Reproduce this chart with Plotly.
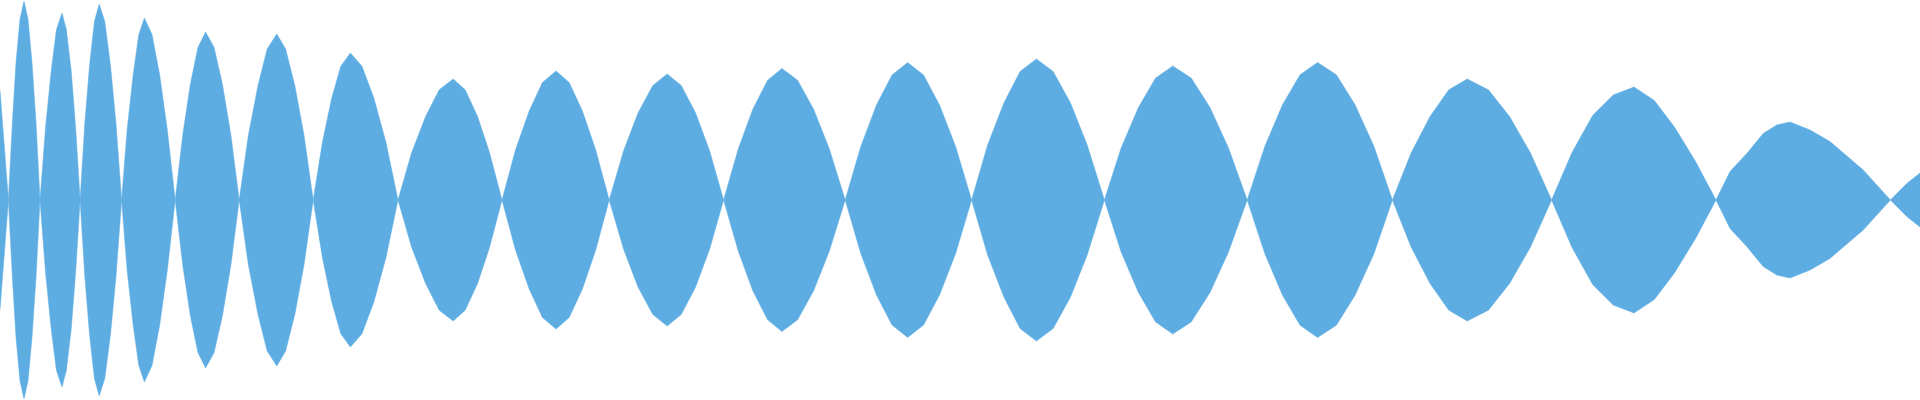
# Plotly: Wellenform (Hüllkurve) als gefüllte Fläche
import plotly.graph_objects as go

zeit = [0.0, 0.01, 0.021,
        0.031, 0.04, 0.05, 0.06, 0.07, 0.08, 0.09, 0.1,
        0.114, 0.128, 0.141, 0.155, 0.166, 0.178, 0.189, 0.2,
        0.212, 0.224, 0.236, 0.248, 0.262, 0.276, 0.29, 0.304,
        0.318, 0.333, 0.347, 0.361, 0.38, 0.399, 0.418, 0.438,
        0.457, 0.476, 0.495, 0.514, 0.535, 0.556, 0.577, 0.598,
        0.621, 0.645, 0.668, 0.692, 0.714, 0.737, 0.76, 0.783,
        0.806, 0.829, 0.852, 0.876, 0.905, 0.935, 0.965, 0.995,
        1.029, 1.064, 1.098, 1.133, 1.163, 1.194, 1.224, 1.255,
        1.289, 1.323, 1.356, 1.39, 1.423, 1.456, 1.489, 1.523,
        1.559, 1.595, 1.632, 1.668, 1.703, 1.739, 1.774, 1.809,
        1.846, 1.882, 1.919, 1.955, 1.994, 2.034, 2.073, 2.113,
        2.152, 2.191, 2.23, 2.269, 2.309, 2.349, 2.389, 2.429,
        2.469, 2.51, 2.55, 2.591, 2.633, 2.676, 2.718, 2.761,
        2.803, 2.846, 2.889, 2.932, 2.978, 3.025, 3.071, 3.118,
        3.162, 3.206, 3.25, 3.294, 3.341, 3.388, 3.435, 3.481,
        3.528, 3.575, 3.622, 3.668, 3.721, 3.774, 3.826, 3.879,
        3.93, 3.982, 4.033, 4.085, 4.136, 4.187, 4.239, 4.29,
        4.325, 4.367, 4.408, 4.442, 4.475, 4.525, 4.575, 4.658, 4.726,
        4.767, 4.8]
amplitude = [-0.55, -0.3, 0,
             0.388, 0.687, 0.905, 0.995, 0.905, 0.687, 0.388, 0,
             -0.365, -0.645, -0.851, -0.935, -0.851, -0.645, -0.365, 0,
             0.382, 0.676, 0.892, 0.98, 0.892, 0.676, 0.382, 0,
             -0.355, -0.628, -0.828, -0.91, -0.828, -0.628, -0.355, 0,
             0.328, 0.58, 0.764, 0.84, 0.764, 0.58, 0.328, 0,
             -0.324, -0.573, -0.755, -0.83, -0.755, -0.573, -0.324, 0,
             0.287, 0.507, 0.669, 0.735, 0.669, 0.507, 0.287, 0,
             -0.236, -0.417, -0.551, -0.605, -0.551, -0.417, -0.236, 0,
             0.252, 0.445, 0.587, 0.645, 0.587, 0.445, 0.252, 0,
             -0.246, -0.435, -0.573, -0.63, -0.573, -0.435, -0.246, 0,
             0.257, 0.454, 0.599, 0.658, 0.599, 0.454, 0.257, 0,
             -0.268, -0.474, -0.625, -0.687, -0.625, -0.474, -0.268, 0,
             0.275, 0.486, 0.642, 0.705, 0.642, 0.486, 0.275, 0,
             -0.261, -0.462, -0.61, -0.67, -0.61, -0.462, -0.261, 0,
             0.268, 0.475, 0.626, 0.688, 0.626, 0.475, 0.268, 0,
             -0.236, -0.417, -0.551, -0.605, -0.551, -0.417, -0.236, 0,
             0.237, 0.424, 0.525, 0.565, 0.497, 0.362, 0.192, 0,
             -0.142, -0.233, -0.333, -0.375, -0.39, -0.35, -0.292, -0.15, 0,
             0.083, 0.135]

farbe = '#5DADE2'

fig = go.Figure()

# obere und gespiegelte untere Hälfte, jeweils bis zur Nulllinie gefüllt
for vorzeichen in (1, -1):
    fig.add_trace(go.Scatter(
        x = zeit,
        y = [vorzeichen * a for a in amplitude],
        mode = 'lines',
        line = dict(color = farbe, width = 0.5),
        fill = 'tozeroy',
        fillcolor = farbe,
        hoverinfo = 'skip'))

fig.update_layout(
    width = 1920,
    height = 400,
    margin = dict(l = 0, r = 0, t = 0, b = 0),
    showlegend = False,
    plot_bgcolor = 'white',
    paper_bgcolor = 'white')

fig.update_xaxes(visible = False, range = [0, 4.8])
fig.update_yaxes(visible = False, range = [-1, 1])

# Seitenrand des Browsers entfernen, keine Werkzeugleiste
fig.write_html("out.html",
    config = {'displayModeBar': False},
    post_script = "document.body.style.margin = '0';")
